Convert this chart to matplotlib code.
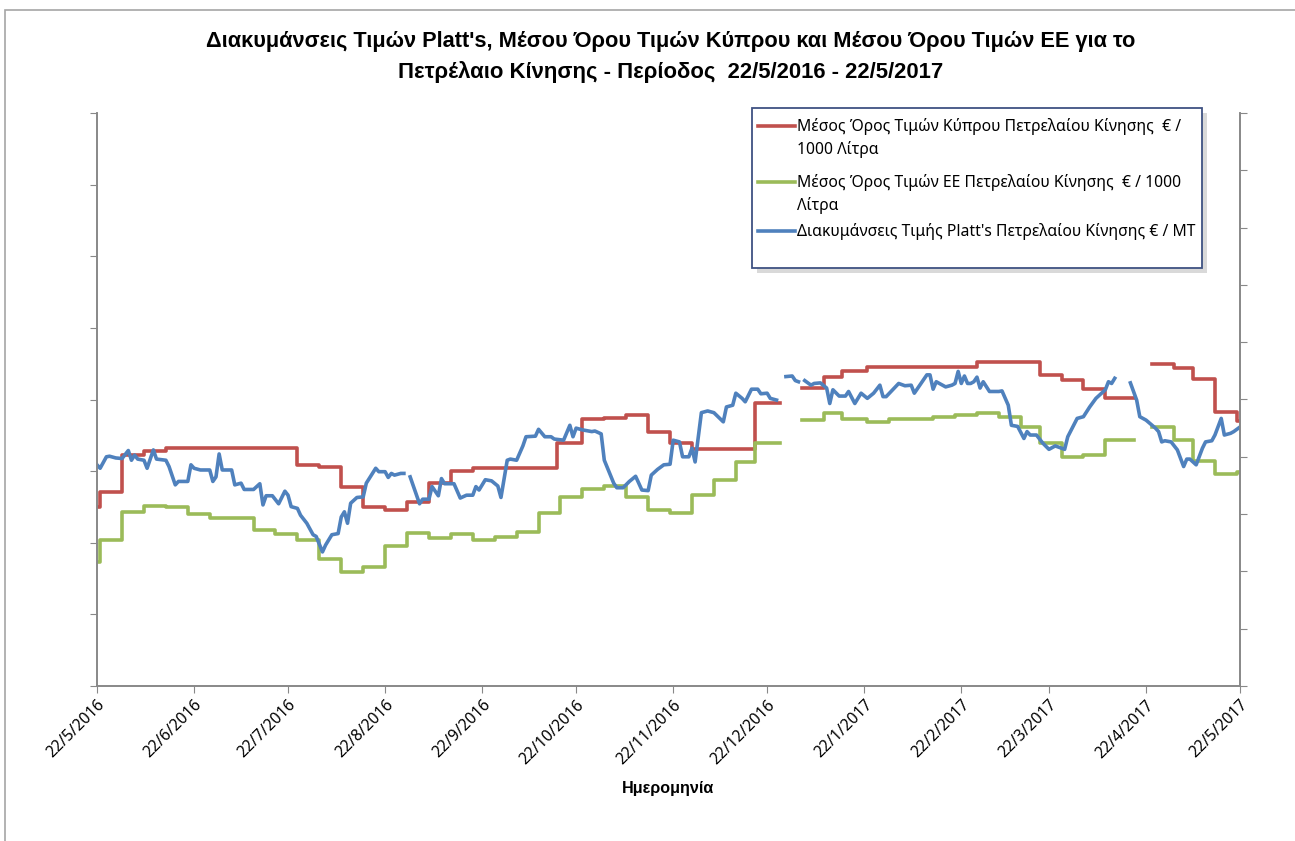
import matplotlib
matplotlib.use('Agg')
import matplotlib.pyplot as plt
from matplotlib.patches import Rectangle
from matplotlib.lines import Line2D
import numpy as np
import pandas as pd

nan = np.nan
start = pd.Timestamp('2016-05-22')

# Cyprus average (step series, left axis) - day offset from 22/5/2016, level
red_days = [0, 1, 8, 15, 22, 64, 71, 78, 85, 92, 99, 106, 113, 120, 147, 155, 162, 169, 176, 183,
            190, 210, 217, 218, 225, 232, 238, 246, 281, 301, 308, 315, 322, 330, 331, 337, 344, 350,
            357, 364, 365]
red_vals = [500, 543, 645, 656, 665, 617, 611, 556, 501, 491, 515, 567, 600, 608, 679, 746, 748, 757,
            710, 679, 662, 790, 790, nan, 832, 864, 880, 892, 906, 868, 854, 829, 804, 804, nan, 898,
            888, 857, 766, 741, 741]

# EU average (step series, left axis)
green_days = [0, 1, 8, 15, 22, 29, 36, 50, 57, 64, 71, 78, 85, 92, 99, 106, 113, 120, 127, 134,
              141, 148, 155, 162, 169, 176, 183, 190, 197, 204, 210, 217, 218, 225, 232, 238, 246,
              253, 267, 274, 281, 288, 295, 301, 308, 315, 322, 330, 331, 337, 344, 350, 357, 364, 365]
green_vals = [347, 408, 487, 503, 499, 480, 469, 436, 424, 408, 355, 319, 333, 391, 428, 412, 424,
              408, 416, 431, 484, 529, 550, 558, 529, 491, 484, 533, 575, 626, 678, 678, nan, 743,
              763, 746, 738, 745, 752, 757, 761, 752, 724, 678, 639, 645, 687, 687, nan, 722, 687,
              628, 592, 598, 598]

# Platt's (right axis)
blue_days = [0, 1, 3, 4, 6, 8, 10, 11, 12, 13, 15, 16, 18, 19, 22, 23, 25, 26, 29, 30, 31, 33, 36,
             37, 38, 39, 40, 43, 44, 46, 47, 50, 52, 53, 54, 56, 58, 60, 61, 62, 64, 65, 67, 69, 70,
             72, 73, 75, 77, 78, 79, 80, 81, 83, 85, 86, 89, 90, 92, 93, 94, 95, 97, 98, 99, 100,
             103, 104, 106, 107, 109, 110, 111, 114, 116, 118, 120, 121, 122, 124, 126, 128, 129,
             131, 132, 134, 136, 137, 140, 141, 143, 145, 146, 149, 151, 152, 153, 155, 158, 159,
             161, 162, 165, 166, 168, 170, 172, 174, 176, 177, 179, 181, 183, 184, 186, 187, 189,
             190, 191, 193, 195, 197, 200, 201, 203, 204, 206, 207, 209, 211, 212, 214, 215, 217,
             218, 220, 222, 223, 224, 225, 226, 228, 229, 231, 233, 234, 235, 237, 239, 240, 242,
             244, 246, 248, 250, 251, 252, 256, 258, 260, 261, 265, 266, 267, 268, 271, 273, 274,
             275, 276, 277, 278, 279, 280, 281, 282, 283, 285, 288, 289, 291, 292, 294, 296, 297,
             298, 300, 302, 304, 306, 307, 309, 310, 313, 315, 317, 319, 321, 322, 323, 324, 325,
             326, 330, 332, 333, 335, 338, 339, 340, 341, 343, 345, 347, 348, 349, 351, 353, 354,
             356, 357, 359, 360, 362, 363, 365]
blue_vals = [386, 380, 400, 401, 398, 397, 411, 394, 403, 396, 394, 380, 412, 396, 394, 383, 351,
             357, 357, 386, 380, 377, 377, 357, 365, 405, 377, 377, 351, 354, 343, 343, 353, 316,
             332, 332, 318, 340, 333, 313, 310, 298, 284, 264, 261, 234, 246, 264, 266, 295, 304,
             284, 319, 329, 330, 354, 380, 374, 374, 364, 371, 368, 371, 371, nan, 365, 318, 326,
             326, 348, 332, 362, 353, 353, 328, 333, 333, 348, 342, 360, 358, 349, 329, 394, 396,
             394, 419, 435, 436, 448, 435, 435, 431, 429, 455, 435, 450, 447, 444, 445, 440, 394,
             354, 346, 346, 357, 366, 342, 341, 368, 378, 386, 387, 429, 426, 400, 400, 415, 391,
             477, 480, 477, 461, 487, 490, 511, 502, 496, 518, 518, 510, 511, 502, 499, nan, 540,
             541, 533, 531, nan, 533, 525, 528, 529, 520, 493, 517, 506, 506, 514, 493, 511, 502,
             511, 525, 505, 505, 528, 524, 525, 511, 543, 543, 518, 531, 522, 525, 528, 549, 528,
             541, 528, 528, 531, 539, 520, 531, 514, 514, 515, 490, 455, 453, 432, 444, 438, 438,
             424, 413, 419, 417, 413, 435, 467, 470, 487, 502, 512, 517, 531, 528, 537, nan, 529,
             499, 470, 464, 450, 444, 426, 428, 426, 412, 383, 396, 396, 386, 415, 426, 428, 438,
             467, 438, 441, 444, 452]

tick_dates = ['2016-05-22', '2016-06-22', '2016-07-22', '2016-08-22', '2016-09-22', '2016-10-22',
              '2016-11-22', '2016-12-22', '2017-01-22', '2017-02-22', '2017-03-22', '2017-04-22',
              '2017-05-22']
tick_labels = ['22/5/2016', '22/6/2016', '22/7/2016', '22/8/2016', '22/9/2016', '22/10/2016',
               '22/11/2016', '22/12/2016', '22/1/2017', '22/2/2017', '22/3/2017', '22/4/2017',
               '22/5/2017']

labels = ["Μέσος Όρος Τιμών Κύπρου Πετρελαίου Κίνησης  € /\n1000 Λίτρα",
          "Μέσος Όρος Τιμών ΕΕ Πετρελαίου Κίνησης  € / 1000\nΛίτρα",
          "Διακυμάνσεις Τιμής Platt's Πετρελαίου Κίνησης € / MT"]
colors = ['#C0504D', '#9BBB59', '#4F81BD']


def to_dates(days):
    return start + pd.to_timedelta(days, unit='D')


plt.rcParams['font.family'] = ['Noto Sans', 'DejaVu Sans']
bold_font = ['Liberation Sans', 'DejaVu Sans']
W, H = 1295, 841
fig = plt.figure(figsize=(W / 100, H / 100), dpi=100)
ax = fig.add_axes([97 / W, 1 - 686 / H, (1240 - 97) / W, (686 - 113) / H])
ax2 = ax.twinx()

ax.plot(to_dates(red_days), red_vals, color=colors[0], lw=2.6, drawstyle='steps-post')
ax.plot(to_dates(green_days), green_vals, color=colors[1], lw=2.6, drawstyle='steps-post')
ax2.plot(to_dates(blue_days), blue_vals, color=colors[2], lw=2.6)

ax.set_xlim(pd.Timestamp('2016-05-22'), pd.Timestamp('2017-05-22'))
ax.set_ylim(0, 1600)
ax.set_yticks(np.arange(0, 1601, 200))
ax2.set_ylim(0, 1000)
ax2.set_yticks(np.arange(0, 1001, 100))

ax.set_xticks(pd.to_datetime(tick_dates))
ax.set_xticklabels(tick_labels, rotation=45, ha='right', va='top', rotation_mode='anchor',
                   fontsize=11.3)

gray = '#888888'
for a in (ax, ax2):
    a.spines['top'].set_visible(False)
    for s in ('left', 'right', 'bottom'):
        a.spines[s].set_color(gray)
        a.spines[s].set_linewidth(1.2)
ax.tick_params(axis='x', direction='out', length=5, color=gray, pad=3)
ax.tick_params(axis='y', direction='out', length=5, color=gray, labelleft=False)
ax2.tick_params(axis='y', direction='out', length=5, color=gray, labelright=False)

# titles
fig.text(671 / W, 1 - 42 / H,
         "Διακυμάνσεις Τιμών Platt's, Μέσου Όρου Τιμών Κύπρου και Μέσου Όρου Τιμών ΕΕ για το",
         ha='center', va='center', fontsize=15.7, fontweight='bold', family=bold_font)
fig.text(671 / W, 1 - 72 / H, "Πετρέλαιο Κίνησης - Περίοδος  22/5/2016 - 22/5/2017",
         ha='center', va='center', fontsize=15.9, fontweight='bold', family=bold_font)
fig.text(668 / W, 1 - 788 / H, "Ημερομηνία", ha='center', va='center', fontsize=11.6,
         fontweight='bold', family=bold_font)

# legend box
def axx(px):
    return (px - 97) / 1143


def axy(py):
    return (686 - py) / 573


x0, x1, y0, y1 = axx(752), axx(1202), axy(268), axy(108)
ax2.add_patch(Rectangle((x0 + 0.004, y0 - 0.008), x1 - x0, y1 - y0, transform=ax2.transAxes,
                        facecolor='#000000', alpha=0.15, edgecolor='none', clip_on=False, zorder=5))
ax2.add_patch(Rectangle((x0, y0), x1 - x0, y1 - y0, transform=ax2.transAxes, facecolor='white',
                        edgecolor='#3F5282', lw=1.3, clip_on=False, zorder=6))
for lab, col, py in zip(labels, colors, [126, 182, 231]):
    ax2.add_line(Line2D([axx(758), axx(795)], [axy(py), axy(py)], transform=ax2.transAxes,
                        color=col, lw=2.6, clip_on=False, zorder=7))
    ax2.text(axx(797), axy(py - 8), lab, transform=ax2.transAxes, ha='left', va='top',
             fontsize=11.3, linespacing=1.45, zorder=7)

# outer chart border
fig.add_artist(Rectangle((5 / W, -0.01), 1.0, 1 - 10 / H + 0.01, transform=fig.transFigure,
                         facecolor='none', edgecolor='#a6a6a6', lw=1.2))

fig.savefig('out.png', dpi=100)
